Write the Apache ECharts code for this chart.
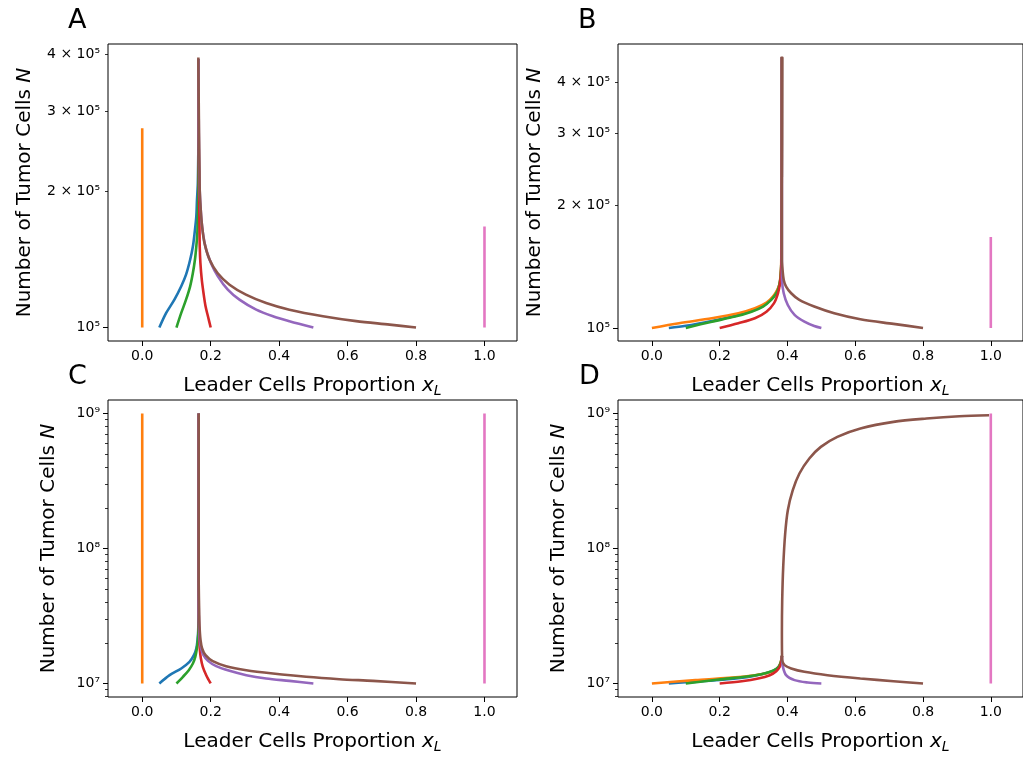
<!DOCTYPE html>
<html><head><meta charset="utf-8">
<script src="https://cdn.jsdelivr.net/npm/echarts@6/dist/echarts.min.js"></script>
<style>html,body{margin:0;padding:0;background:#fff}#c{width:1023px;height:759px}</style>
</head><body><div id="c"></div><script>
// ---------------- data ----------------
const seriesNames = ['C0', 'C1', 'C2', 'C3', 'C4', 'C5', 'C6'];
const xTicks = [0, 0.2, 0.4, 0.6, 0.8, 1.0];
const yLabelTicksAB = [1e5, 2e5, 3e5, 4e5];
const yMajorAB = [1e5];
const yMinorAB = [2e5, 3e5, 4e5];
const yLabelTicksCD = [1e7, 1e8, 1e9];
const yMinorCD = [8e6, 9e6, 2e7, 3e7, 4e7, 5e7, 6e7, 7e7, 8e7, 9e7, 2e8, 3e8, 4e8, 5e8, 6e8, 7e8, 8e8, 9e8];

// Panel A
const aBlue = [[0.05,1.00e5],[0.070,1.077e5],[0.094,1.152e5],[0.114,1.233e5],[0.128,1.308e5],[0.140,1.411e5],[0.148,1.509e5],[0.153,1.615e5],[0.158,1.756e5],[0.160,1.911e5],[0.1625,2.08e5],[0.164,2.5e5],[0.165,3.0e5],[0.165,3.9e5]];
const aOrange = [[0,1e5],[0,2.75e5]];
const aGreen = [[0.10,1.0e5],[0.114,1.077e5],[0.128,1.152e5],[0.140,1.233e5],[0.148,1.319e5],[0.154,1.411e5],[0.158,1.509e5],[0.161,1.615e5],[0.1625,1.756e5],[0.164,2.0e5],[0.165,2.6e5],[0.165,3.9e5]];
const aRed = [[0.20,1.0e5],[0.192,1.059e5],[0.185,1.114e5],[0.179,1.192e5],[0.174,1.275e5],[0.170,1.387e5],[0.168,1.509e5],[0.1674,1.643e5],[0.166,2.0e5],[0.165,2.6e5],[0.165,3.9e5]];
const aPurple = [[0.50,1.0e5],[0.430,1.033e5],[0.382,1.059e5],[0.333,1.095e5],[0.284,1.152e5],[0.250,1.212e5],[0.221,1.297e5],[0.201,1.387e5],[0.187,1.483e5],[0.179,1.587e5],[0.174,1.698e5],[0.171,1.816e5],[0.168,2.0e5],[0.166,2.4e5],[0.165,3.0e5],[0.165,3.9e5]];
const aBrown = [[0.80,1.0e5],[0.723,1.015e5],[0.625,1.033e5],[0.528,1.059e5],[0.430,1.095e5],[0.362,1.133e5],[0.303,1.182e5],[0.255,1.243e5],[0.220,1.319e5],[0.197,1.411e5],[0.182,1.535e5],[0.175,1.670e5],[0.171,1.816e5],[0.168,2.011e5],[0.1674,2.225e5],[0.166,2.68e5],[0.165,3.2e5],[0.164,3.94e5]];
const aPink = [[1,1e5],[1,1.67e5]];

// Panel B
const bBlue = [[0.05,1.0e5],[0.10,1.012e5],[0.177,1.04e5],[0.245,1.07e5],[0.294,1.10e5],[0.328,1.132e5],[0.352,1.175e5],[0.367,1.22e5],[0.375,1.266e5],[0.380,1.34e5],[0.382,1.45e5],[0.383,2.0e5],[0.3836,4.6e5]];
const bOrange = [[0.0,1.0e5],[0.080,1.027e5],[0.177,1.056e5],[0.255,1.086e5],[0.304,1.117e5],[0.338,1.153e5],[0.357,1.193e5],[0.370,1.239e5],[0.377,1.287e5],[0.380,1.361e5],[0.3816,1.44e5],[0.383,2.0e5],[0.3836,4.6e5]];
const bGreen = [[0.10,1.0e5],[0.177,1.036e5],[0.245,1.066e5],[0.294,1.096e5],[0.328,1.128e5],[0.352,1.171e5],[0.367,1.216e5],[0.375,1.263e5],[0.380,1.336e5],[0.382,1.45e5],[0.383,2.0e5],[0.3836,4.6e5]];
const bRed = [[0.20,1.0e5],[0.255,1.027e5],[0.304,1.056e5],[0.338,1.096e5],[0.360,1.149e5],[0.372,1.216e5],[0.378,1.287e5],[0.381,1.361e5],[0.382,1.45e5],[0.383,2.0e5],[0.3836,4.6e5]];
const bPurple = [[0.50,1.0e5],[0.479,1.011e5],[0.450,1.036e5],[0.421,1.076e5],[0.401,1.138e5],[0.389,1.216e5],[0.384,1.311e5],[0.3836,1.45e5],[0.3836,2.0e5],[0.3836,4.6e5]];
const bBrown = [[0.80,1.0e5],[0.713,1.023e5],[0.615,1.05e5],[0.538,1.086e5],[0.479,1.128e5],[0.435,1.171e5],[0.411,1.216e5],[0.396,1.263e5],[0.389,1.311e5],[0.3855,1.387e5],[0.3836,1.468e5],[0.3836,2.0e5],[0.3836,4.62e5]];
const bPink = [[1,1e5],[1,1.67e5]];

// Panel C
const cBlue = [[0.05,1e7],[0.080,1.152e7],[0.114,1.292e7],[0.138,1.445e7],[0.151,1.62e7],[0.158,1.816e7],[0.1616,2.093e7],[0.1636,2.482e7],[0.165,4e7],[0.165,1e9]];
const cOrange = [[0,1e7],[0,1e9]];
const cGreen = [[0.10,1e7],[0.119,1.121e7],[0.136,1.255e7],[0.148,1.406e7],[0.155,1.576e7],[0.1597,1.816e7],[0.1626,2.093e7],[0.1645,2.6e7],[0.165,4e7],[0.165,1e9]];
const cRed = [[0.20,1e7],[0.187,1.152e7],[0.177,1.329e7],[0.1714,1.532e7],[0.1685,1.766e7],[0.167,2.1e7],[0.1655,2.7e7],[0.165,4e7],[0.165,1e9]];
const cPurple = [[0.50,1e7],[0.430,1.045e7],[0.362,1.089e7],[0.304,1.152e7],[0.255,1.24e7],[0.216,1.344e7],[0.192,1.47e7],[0.179,1.62e7],[0.172,1.816e7],[0.168,2.1e7],[0.166,2.7e7],[0.165,4e7],[0.165,1e9]];
const cBrown = [[0.80,1e7],[0.674,1.045e7],[0.576,1.076e7],[0.479,1.121e7],[0.382,1.186e7],[0.304,1.255e7],[0.245,1.344e7],[0.206,1.463e7],[0.185,1.62e7],[0.175,1.816e7],[0.1704,2.093e7],[0.1675,2.626e7],[0.1665,3.3e7],[0.165,6e7],[0.165,1e9]];
const cPink = [[1,1e7],[1,1e9]];

// Panel D
const dBlue = [[0.05,1e7],[0.10,1.02e7],[0.20,1.06e7],[0.28,1.115e7],[0.323,1.17e7],[0.357,1.24e7],[0.374,1.33e7],[0.381,1.45e7],[0.3836,1.6e7]];
const dOrange = [[0,1e7],[0.1285,1.059e7],[0.226,1.10e7],[0.304,1.152e7],[0.343,1.199e7],[0.367,1.27e7],[0.377,1.367e7],[0.3817,1.489e7],[0.3836,1.6e7]];
const dGreen = [[0.10,1e7],[0.197,1.07e7],[0.275,1.121e7],[0.323,1.172e7],[0.357,1.241e7],[0.374,1.329e7],[0.381,1.45e7],[0.3836,1.6e7]];
const dRed = [[0.20,1e7],[0.265,1.04e7],[0.3135,1.089e7],[0.348,1.152e7],[0.367,1.234e7],[0.377,1.329e7],[0.382,1.45e7],[0.3836,1.6e7]];
const dPurple = [[0.50,1e7],[0.460,1.017e7],[0.421,1.059e7],[0.396,1.152e7],[0.386,1.35e7],[0.3836,1.6e7]];
const dBrown = [[0.80,1e7],[0.713,1.04e7],[0.615,1.089e7],[0.518,1.152e7],[0.450,1.22e7],[0.411,1.292e7],[0.3915,1.367e7],[0.3845,1.489e7],[0.3836,2.346e7],[0.3845,4.14e7],[0.3875,7.31e7],[0.3933,1.291e8],[0.4011,1.923e8],[0.4157,2.704e8],[0.4353,3.594e8],[0.4645,4.645e8],[0.4985,5.66e8],[0.5472,6.71e8],[0.6153,7.74e8],[0.7128,8.67e8],[0.8101,9.18e8],[0.9074,9.55e8],[0.995,9.71e8]];
const dPink = [[1,1e7],[1,1e9]];

// ---------------- chart ----------------
const colors = ['#1f77b4','#ff7f0e','#2ca02c','#d62728','#9467bd','#8c564b','#e377c2'];
const FONT = 'DejaVu Sans';
const SUP = {'0':'⁰','1':'¹','2':'²','3':'³','4':'⁴','5':'⁵','6':'⁶','7':'⁷','8':'⁸','9':'⁹','-':'⁻'};
function sciLabel(v) {
  const e = Math.floor(Math.log10(v) + 1e-9);
  const m = Math.round(v / Math.pow(10, e));
  const sup = String(e).split('').map(c => SUP[c]).join('');
  return m === 1 ? '10' + sup : m + ' × 10' + sup;
}

const panels = [
  {letter:'A', left:108, top:44, yMin:9.34e4, yMax:4.22e5, labels:yLabelTicksAB, major:yMajorAB, minor:yMinorAB, yGap:73, lx:78, ly:22,
   data:[aBlue,aOrange,aGreen,aRed,aPurple,aBrown,aPink]},
  {letter:'B', left:618, top:44, yMin:9.29e4, yMax:4.96e5, labels:yLabelTicksAB, major:yMajorAB, minor:yMinorAB, yGap:73, lx:588, ly:22,
   data:[bBlue,bOrange,bGreen,bRed,bPurple,bBrown,bPink]},
  {letter:'C', left:108, top:400, yMin:7.94e6, yMax:1.259e9, labels:yLabelTicksCD, major:yLabelTicksCD, minor:yMinorCD, yGap:49, lx:78, ly:378,
   data:[cBlue,cOrange,cGreen,cRed,cPurple,cBrown,cPink]},
  {letter:'D', left:618, top:400, yMin:7.94e6, yMax:1.259e9, labels:yLabelTicksCD, major:yLabelTicksCD, minor:yMinorCD, yGap:49, lx:589, ly:378,
   data:[dBlue,dOrange,dGreen,dRed,dPurple,dBrown,dPink]}
];

const option = {
  backgroundColor: '#fff',
  animation: false,
  grid: [], xAxis: [], yAxis: [], series: [], graphic: []
};

panels.forEach((p, i) => {
  option.grid.push({left:p.left, top:p.top, width:409, height:297, show:true, borderColor:'#000', borderWidth:1, backgroundColor:'transparent', containLabel:false});
  option.xAxis.push({
    type:'value', gridIndex:i, min:-0.1, max:1.095, position:'bottom',
    axisLine:{show:false, onZero:false}, splitLine:{show:false},
    axisTick:{show:true, length:5, lineStyle:{color:'#000', width:1}, customValues:xTicks},
    axisLabel:{show:true, customValues:xTicks, formatter:v => Number(v).toFixed(1), fontFamily:FONT, fontSize:14, color:'#000', margin:8},
    name:'{n|Leader Cells Proportion }{i|x}{s|L}', nameLocation:'middle', nameGap:33,
    nameTextStyle:{fontFamily:FONT, fontSize:20, color:'#000', verticalAlign:'top',
      rich:{n:{fontFamily:FONT, fontSize:20, color:'#000', lineHeight:24},
            i:{fontFamily:FONT, fontSize:20, fontStyle:'italic', color:'#000', lineHeight:24},
            s:{fontFamily:FONT, fontSize:14, fontStyle:'italic', color:'#000', lineHeight:12, verticalAlign:'bottom'}}}
  });
  // major / labelled y axis
  option.yAxis.push({
    type:'log', logBase:10, gridIndex:i, min:p.yMin, max:p.yMax, position:'left', offset:0,
    axisLine:{show:false, onZero:false}, splitLine:{show:false}, minorTick:{show:false},
    axisTick:{show:true, length:5, lineStyle:{color:'#000', width:1}, customValues:p.major},
    axisLabel:{show:true, customValues:p.labels, formatter:v => sciLabel(v), fontFamily:FONT, fontSize:14, color:'#000', margin:8},
    name:'{n|Number of Tumor Cells }{i|N}', nameLocation:'middle', nameGap:p.yGap, nameRotate:90,
    nameTextStyle:{fontFamily:FONT, fontSize:20, color:'#000',
      rich:{n:{fontFamily:FONT, fontSize:20, color:'#000'},
            i:{fontFamily:FONT, fontSize:20, fontStyle:'italic', color:'#000'}}}
  });
  // minor ticks y axis
  option.yAxis.push({
    type:'log', logBase:10, gridIndex:i, min:p.yMin, max:p.yMax, position:'left', offset:0,
    axisLine:{show:false, onZero:false}, splitLine:{show:false},
    axisTick:{show:true, length:3, lineStyle:{color:'#000', width:0.8}, customValues:p.minor},
    axisLabel:{show:false}
  });
  p.data.forEach((d, k) => {
    option.series.push({
      type:'line', name:seriesNames[k], xAxisIndex:i, yAxisIndex:2*i, data:d,
      showSymbol:false, symbol:'none', smooth:0.3,
      lineStyle:{color:colors[k], width:2.6}, itemStyle:{color:colors[k]},
      z: 2 + k, silent:true
    });
  });
  option.graphic.push({type:'text', left:p.lx - 10, top:p.ly - 15,
    style:{text:p.letter, fontFamily:FONT, fontSize:27, fill:'#000'}});
});

const chart = echarts.init(document.getElementById('c'), null, {renderer:'canvas'});
chart.setOption(option);
</script></body></html>
